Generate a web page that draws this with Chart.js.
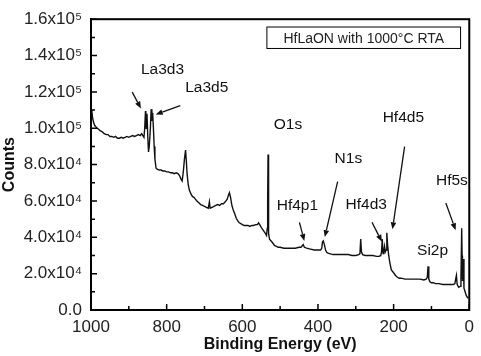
<!DOCTYPE html>
<html>
<head>
<meta charset="utf-8">
<script src="https://cdn.jsdelivr.net/npm/chart.js@4.4.0/dist/chart.umd.min.js"></script>
<style>
  html, body { margin: 0; padding: 0; background: #fff; }
  #wrap { width: 481px; height: 356px; }
</style>
</head>
<body>
<div id="wrap"><canvas id="chart"></canvas></div>
<script>
// XPS survey spectrum, binding energy (eV) vs counts
const energy = [
  1000, 998, 996, 993, 990, 986, 980, 975, 970, 965, 960, 955, 950, 945, 940, 935, 930, 925, 920, 915,
  910, 905, 900, 895, 890, 885, 880, 875, 870, 866, 863, 860, 858, 856, 855, 854, 852, 850, 848, 846,
  843, 841, 839, 837, 835, 833, 831, 828, 825, 820, 815, 810, 805, 800, 795, 790, 785, 780, 775, 770,
  766, 762, 759, 756, 753, 750, 748, 746, 743, 740, 736, 732, 728, 724, 720, 715, 710, 705, 700, 695,
  690, 687, 685, 680, 675, 670, 665, 660, 655, 650, 645, 640, 636, 634, 631, 628, 624, 620, 616, 612,
  608, 604, 600, 595, 590, 585, 580, 575, 570, 565, 560, 557, 554, 550, 545, 540, 536, 534, 533, 532,
  531, 530, 528, 524, 520, 515, 510, 505, 500, 490, 480, 470, 460, 450, 445, 441, 439, 436, 430, 420,
  410, 400, 393, 390, 388, 386, 383, 380, 376, 370, 360, 350, 340, 330, 320, 310, 300, 292, 289, 287,
  285, 282, 275, 265, 255, 245, 238, 234, 232, 230, 228, 226, 224, 222, 220, 218, 216, 213, 210, 206,
  200, 195, 190, 185, 180, 170, 160, 150, 140, 130, 120, 114, 111, 109, 107, 104, 100, 95, 90, 80,
  70, 60, 50, 42, 38, 36, 34, 32, 28, 24, 22, 20, 19, 18, 16, 14, 11, 8, 5, 3
];
const counts = [
  107000, 110000, 106000, 103000, 101500, 100500, 99500, 98500, 98000, 97000, 96500, 96500, 95500, 95500, 95000, 95500, 94500, 94500, 95000, 94500,
  95000, 95500, 95000, 95500, 96000, 95500, 96000, 96500, 96000, 97000, 96000, 95000, 100000, 109500, 106000, 100000, 108000, 96000, 87000, 90000,
  100000, 110500, 104000, 108500, 100000, 90000, 83000, 78000, 77500, 77000, 77000, 76500, 76500, 76000, 76000, 75500, 75500, 75000, 75500, 75000,
  74000, 72000, 71000, 76000, 83000, 88000, 82000, 75000, 69000, 66000, 64000, 62500, 62000, 61000, 60000, 59000, 58000, 57500, 57000, 56500,
  56000, 59500, 56000, 56500, 57000, 57500, 58000, 57500, 58500, 58500, 59500, 61000, 63500, 64500, 62000, 58000, 55000, 53000, 50500, 49000,
  48000, 47500, 47000, 46500, 46500, 46500, 46000, 46500, 46500, 47000, 47000, 48000, 47000, 45500, 44000, 42500, 41000, 45000, 60000, 85500,
  55000, 42000, 39000, 38000, 37000, 35500, 35000, 34500, 34500, 34000, 34000, 34000, 34000, 34500, 34500, 35500, 36000, 34500, 34000, 33500,
  33000, 33000, 33000, 34000, 37500, 38000, 36000, 33000, 31500, 31000, 30500, 30500, 30500, 30500, 30500, 30000, 30000, 30500, 31000, 39000,
  32000, 30500, 30000, 30000, 30000, 29500, 29500, 30000, 32000, 39000, 31000, 32000, 35000, 32000, 33000, 42500, 36000, 30000, 26000, 22000,
  20500, 19000, 18000, 17500, 17500, 17000, 17000, 17000, 17000, 17000, 16500, 17000, 18000, 24000, 17000, 15500, 15000, 15000, 14500, 14500,
  14000, 14000, 14000, 14000, 14500, 17000, 19000, 14000, 12500, 13000, 18000, 45000, 30000, 16000, 28000, 12000, 10000, 8000, 7000, 6500
];

const xTickValues = [1000, 800, 600, 400, 200, 0];
const yTickLabels = ['0.0', '2.0x10⁴', '4.0x10⁴', '6.0x10⁴', '8.0x10⁴',
                     '1.0x10⁵', '1.2x10⁵', '1.4x10⁵', '1.6x10⁵'];

// peak labels and arrows, in data units (eV, counts)
const peakLabels = [
  { text: 'La3d3', x: 868, y: 132200 },
  { text: 'La3d5', x: 751, y: 122500 },
  { text: 'O1s', x: 517, y: 102200 },
  { text: 'N1s', x: 356, y: 83500 },
  { text: 'Hf4d5', x: 229, y: 105700 },
  { text: 'Hf5s', x: 88, y: 70900 },
  { text: 'Hf4p1', x: 509, y: 57500 },
  { text: 'Hf4d3', x: 327, y: 57800 },
  { text: 'Si2p', x: 138, y: 32600 }
];
const peakArrows = [
  { from: [891, 119900], to: [868, 110800] },
  { from: [764, 112400], to: [829, 107500] },
  { from: [348, 70600], to: [382, 40100] },
  { from: [171, 89900], to: [203, 44400] },
  { from: [449, 48200], to: [436, 38000] },
  { from: [257, 48200], to: [231, 37500] },
  { from: [62, 58900], to: [36, 43900] }
];
const legendText = 'HfLaON with 1000°C RTA';

const FONT = '"Liberation Sans", Arial, sans-serif';

const decor = {
  id: 'decor',
  afterDraw(chart) {
    const { ctx, chartArea: a, scales: { x, y } } = chart;
    ctx.save();

    // frame
    ctx.strokeStyle = '#000';
    ctx.lineWidth = 2;
    ctx.strokeRect(a.left, a.top, a.right - a.left, a.bottom - a.top);

    // inward tick marks
    ctx.lineWidth = 1.5;
    ctx.beginPath();
    for (let v = 0; v <= 1000; v += 100) {
      const px = x.getPixelForValue(v);
      const len = v % 200 === 0 ? 6 : 4;
      ctx.moveTo(px, a.bottom);
      ctx.lineTo(px, a.bottom - len);
    }
    for (let v = 0; v <= 160000; v += 10000) {
      const py = y.getPixelForValue(v);
      const len = v % 20000 === 0 ? 6 : 4;
      ctx.moveTo(a.left, py);
      ctx.lineTo(a.left + len, py);
    }
    ctx.stroke();

    // legend box
    const bx1 = x.getPixelForValue(535), bx2 = x.getPixelForValue(23);
    const by1 = y.getPixelForValue(155700), by2 = y.getPixelForValue(143900);
    ctx.fillStyle = '#fff';
    ctx.fillRect(bx1, by1, bx2 - bx1, by2 - by1);
    ctx.lineWidth = 1;
    ctx.strokeRect(bx1, by1, bx2 - bx1, by2 - by1);
    ctx.fillStyle = '#222';
    ctx.font = '14px ' + FONT;
    ctx.textAlign = 'center';
    ctx.textBaseline = 'middle';
    ctx.fillText(legendText, (bx1 + bx2) / 2, (by1 + by2) / 2 + 1);

    // peak labels
    ctx.font = '15.5px ' + FONT;
    ctx.textAlign = 'left';
    ctx.fillStyle = '#111';
    peakLabels.forEach(l => {
      ctx.fillText(l.text, x.getPixelForValue(l.x), y.getPixelForValue(l.y));
    });

    // arrows
    ctx.strokeStyle = '#111';
    ctx.fillStyle = '#111';
    ctx.lineWidth = 1.3;
    peakArrows.forEach(ar => {
      const x1 = x.getPixelForValue(ar.from[0]), y1 = y.getPixelForValue(ar.from[1]);
      const x2 = x.getPixelForValue(ar.to[0]), y2 = y.getPixelForValue(ar.to[1]);
      const ang = Math.atan2(y2 - y1, x2 - x1);
      const hl = 7, hw = 2.8;
      const bx = x2 - hl * Math.cos(ang), by = y2 - hl * Math.sin(ang);
      ctx.beginPath();
      ctx.moveTo(x1, y1);
      ctx.lineTo(bx, by);
      ctx.stroke();
      ctx.beginPath();
      ctx.moveTo(x2, y2);
      ctx.lineTo(bx + hw * Math.sin(ang), by - hw * Math.cos(ang));
      ctx.lineTo(bx - hw * Math.sin(ang), by + hw * Math.cos(ang));
      ctx.closePath();
      ctx.fill();
    });

    ctx.restore();
  }
};

const ctx = document.getElementById('chart').getContext('2d');
new Chart(ctx, {
  type: 'line',
  data: {
    datasets: [{
      label: 'HfLaON',
      data: energy.map((e, i) => ({ x: e, y: counts[i] })),
      borderColor: '#111',
      borderWidth: 1.4,
      pointRadius: 0,
      tension: 0,
      fill: false
    }]
  },
  options: {
    animation: false,
    responsive: true,
    maintainAspectRatio: false,
    layout: { padding: { top: 11, right: 5, left: 0, bottom: 0 } },
    plugins: {
      legend: { display: false },
      tooltip: { enabled: false }
    },
    scales: {
      x: {
        type: 'linear',
        reverse: true,
        min: 0,
        max: 1000,
        afterFit: s => { s.height = 46; },
        afterBuildTicks: s => { s.ticks = xTickValues.map(v => ({ value: v })); },
        grid: { drawOnChartArea: false, drawTicks: false },
        border: { color: '#000', width: 2 },
        ticks: {
          padding: 7,
          color: '#222',
          font: { family: FONT, size: 17 },
          maxRotation: 0,
          callback: v => String(v)
        },
        title: {
          display: true,
          text: 'Binding Energy (eV)',
          color: '#111',
          font: { family: FONT, size: 16, weight: 'bold' },
          padding: { top: 0, bottom: 2 }
        }
      },
      y: {
        min: 0,
        max: 160000,
        afterFit: s => { s.width = 91; },
        grid: { drawOnChartArea: false, drawTicks: false },
        border: { color: '#000', width: 2 },
        ticks: {
          stepSize: 20000,
          padding: 9,
          color: '#222',
          font: { family: FONT, size: 17 },
          callback: v => yTickLabels[Math.round(v / 20000)]
        },
        title: {
          display: true,
          text: 'Counts',
          color: '#111',
          font: { family: FONT, size: 16, weight: 'bold' },
          padding: { top: 0, bottom: 0 }
        }
      }
    }
  },
  plugins: [decor]
});
</script>
</body>
</html>
